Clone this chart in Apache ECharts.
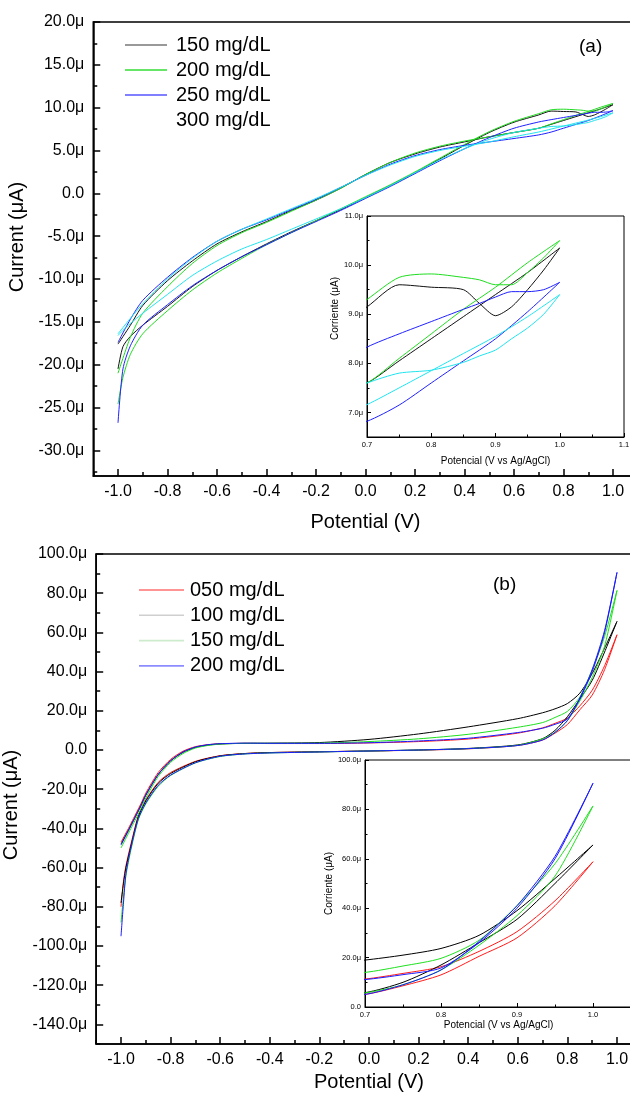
<!DOCTYPE html>
<html><head><meta charset="utf-8">
<script src="https://cdn.jsdelivr.net/npm/echarts@6/dist/echarts.min.js"></script>
<style>html,body{margin:0;padding:0;background:#fff}#c{width:630px;height:1093px}</style>
</head><body><div id="c"></div>
<script>
// ---------------- Panel (a) data (current in µA) ----------------
const potA_fwd = [-1.0,-0.95,-0.9,-0.8,-0.7,-0.6,-0.5,-0.4,-0.3,-0.2,-0.1,0.0,0.1,0.2,0.3,0.4,0.5,0.6,0.7,0.75,0.8,0.85,0.9,0.95,1.0];
const potA_rev = [1.0,0.975,0.95,0.925,0.9,0.875,0.85,0.8,0.75,0.7,0.6,0.5,0.4,0.3,0.2,0.1,0.0,-0.1,-0.2,-0.3,-0.4,-0.5,-0.6,-0.7,-0.8,-0.9,-0.95,-0.98,-1.0];

const a150_fwd = [-17.6,-15.4,-13.1,-10.2,-7.9,-5.9,-4.5,-3.3,-2.0,-0.8,0.6,2.2,3.6,4.6,5.4,6.0,6.6,7.1,7.6,8.05,8.5,8.95,9.4,9.85,10.35];
const a150_rev = [10.35,9.9,9.5,9.15,8.97,9.22,9.5,9.55,9.6,9.15,8.3,7.1,5.6,4.0,2.4,0.9,-0.5,-1.9,-3.2,-4.5,-5.9,-7.4,-9.0,-10.9,-13.2,-15.4,-16.7,-17.9,-20.5];

const a200_fwd = [-21.0,-16.8,-14.0,-10.9,-8.2,-6.1,-4.6,-3.4,-2.1,-0.8,0.6,2.2,3.6,4.7,5.5,6.1,6.6,7.1,7.6,8.1,8.6,9.1,9.55,10.05,10.5];
const a200_rev = [10.5,10.15,9.85,9.6,9.6,9.7,9.75,9.82,9.75,9.3,8.4,7.2,5.7,4.1,2.5,1.0,-0.4,-1.8,-3.2,-4.6,-6.0,-7.6,-9.3,-11.3,-13.7,-16.4,-18.8,-21.5,-24.6];

const a250_fwd = [-17.4,-14.7,-12.5,-9.8,-7.5,-5.6,-4.2,-3.1,-1.9,-0.7,0.7,2.1,3.4,4.4,5.1,5.6,6.0,6.4,6.82,7.15,7.6,8.05,8.5,9.05,9.65];
const a250_rev = [9.65,9.5,9.46,9.46,9.35,9.22,9.1,8.85,8.6,8.33,7.6,6.5,5.2,3.8,2.3,0.8,-0.6,-2.0,-3.3,-4.6,-6.0,-7.4,-9.0,-10.8,-13.0,-15.4,-17.8,-20.5,-26.8];

const a300_fwd = [-16.4,-14.6,-12.9,-10.0,-7.6,-5.6,-4.2,-3.0,-1.8,-0.6,0.7,2.1,3.3,4.3,5.0,5.5,6.0,6.6,7.16,7.5,7.85,8.2,8.55,8.95,9.4];
const a300_rev = [9.4,9.0,8.72,8.5,8.27,8.15,8.02,7.86,7.8,7.6,7.1,6.3,5.2,3.9,2.4,0.9,-0.5,-1.8,-3.0,-4.2,-5.4,-6.5,-7.9,-9.6,-11.8,-14.0,-15.2,-16.0,-16.6];

// ---------------- Panel (b) data (current in µA) ----------------
const potB_fwd = [-1.0,-0.97,-0.95,-0.92,-0.9,-0.85,-0.8,-0.75,-0.7,-0.65,-0.6,-0.5,-0.4,-0.2,0.0,0.2,0.4,0.6,0.7,0.75,0.8,0.85,0.9,0.95,1.0];
const potB_rev = [1.0,0.95,0.9,0.85,0.8,0.75,0.7,0.6,0.4,0.2,0.0,-0.2,-0.4,-0.5,-0.6,-0.7,-0.8,-0.85,-0.9,-0.93,-0.96,-0.98,-0.99,-1.0];

const b050_fwd = [-47,-40,-35,-27.5,-22,-11.5,-4.8,-0.6,1.7,2.7,3.2,3.4,3.3,3.3,3.6,4.3,5.6,8.6,11.3,13.6,16.3,22.5,30.5,43,58.8];
const b050_rev = [58.8,41,28,20.5,13,8.6,5.1,2.3,0.6,-0.1,-0.5,-0.9,-1.3,-1.8,-2.9,-5.8,-11.5,-16.5,-25.5,-33.5,-48,-59,-67,-80];

const b100_fwd = [-48,-41,-36,-28.5,-23,-12.5,-5.5,-1.2,1.3,2.5,3.1,3.4,3.5,3.8,5.4,8.2,11.8,16.0,19.0,21.0,23.7,29,39,52,65.6];
const b100_rev = [65.6,50,35.5,26,17,10,5.8,2.6,0.8,0.0,-0.5,-0.9,-1.3,-1.8,-3.0,-6.0,-12,-17,-26,-34,-49,-60,-68,-78];

const b150_fwd = [-50,-42.5,-37.5,-30,-24.5,-13.5,-6.3,-1.8,1.0,2.3,3.0,3.4,3.4,3.5,4.3,5.7,8.0,11.6,14.0,16.6,19.7,27,41,58,81.4];
const b150_rev = [81.4,53,37,25,15,9.0,5.7,2.4,0.7,0.0,-0.5,-1.0,-1.5,-2.0,-3.3,-6.6,-13,-18.5,-27.5,-35.5,-51,-64,-75,-88];

const b200_fwd = [-48.5,-41,-36,-28.5,-23,-12.5,-5.5,-1.0,1.5,2.7,3.2,3.5,3.4,3.4,3.7,4.6,6.0,8.9,11.1,13.1,15.8,26,40,60,90.6];
const b200_rev = [90.6,61,41,26.5,15,9.0,5.1,2.3,0.7,0.0,-0.5,-1.0,-1.5,-2.0,-3.2,-6.5,-12.8,-18,-27,-35,-50,-63,-78,-95];

// ---------------- tick labels ----------------
const ticksX_main = [-1.0,-0.8,-0.6,-0.4,-0.2,0.0,0.2,0.4,0.6,0.8,1.0];
const ticksY_a = [-30,-25,-20,-15,-10,-5,0,5,10,15,20];
const ticksY_b = [-140,-120,-100,-80,-60,-40,-20,0,20,40,60,80,100];
const ticksX_insA = [0.7,0.8,0.9,1.0,1.1];
const ticksY_insA = [7,8,9,10,11];
const ticksX_insB = [0.7,0.8,0.9,1.0];
const ticksY_insB = [0,20,40,60,80,100];

const namesA = ['150 mg/dL','200 mg/dL','250 mg/dL','300 mg/dL'];
const namesB = ['050 mg/dL','100 mg/dL','150 mg/dL','200 mg/dL'];

// ---------------- build ----------------
const FONT = '"Liberation Sans", Arial, Helvetica, sans-serif';
function pairs(xs, ys){ return xs.map((x,i)=>[x, ys[i]]); }
function loop(xf, yf, xr, yr){ return pairs(xf,yf).concat(pairs(xr,yr)); }
function minorOf(major, lo, hi){
  const step = major[1]-major[0]; const out=[];
  for (let k=-3;k<major.length+3;k++){ const v = major[0] + (k+0.5)*step; if (v>=lo-1e-9 && v<=hi+1e-9) out.push(+v.toFixed(4)); }
  return out;
}
const fmtY = v => Math.abs(v)<1e-9 ? '0.0' : v.toFixed(1)+'\u03bc';
const fmtX = v => (Math.abs(v)<1e-9 ? 0 : v).toFixed(1);

const xAxes=[], yAxes=[];
function addAxes(kind, g, min, max, majors, fmt, o){
  const arr = kind==='x' ? xAxes : yAxes;
  const pos = kind==='x' ? 'bottom' : 'left';
  const idx = arr.length;
  arr.push({
    type:'value', gridIndex:g, min, max, position:pos,
    axisLine:{show:true, onZero:false, lineStyle:{color:'#000', width:o.lw}},
    axisTick:{show:true, inside:true, length:o.tl, customValues:majors, lineStyle:{color:'#000', width:o.lw}},
    axisLabel:{show:true, customValues:majors, formatter:fmt, color:'#000', fontFamily:FONT, fontSize:o.fs, margin:o.margin, hideOverlap:false},
    splitLine:{show:false},
    name:o.name, nameLocation:'middle', nameGap:o.nameGap,
    nameTextStyle:{color:'#000', fontFamily:FONT, fontSize:o.nfs, padding:o.npad||0}
  });
  arr.push({
    type:'value', gridIndex:g, min, max, position:pos,
    axisLine:{show:false, onZero:false},
    axisTick:{show:true, inside:true, length:o.ts, customValues:minorOf(majors,min,max), lineStyle:{color:'#000', width:o.lw}},
    axisLabel:{show:false}, splitLine:{show:false}
  });
  return idx;
}

const grids = [
  {left:93.25, top:22, width:544.5, height:454},
  {left:367, top:216, width:257, height:221},
  {left:96.2, top:554, width:545.6, height:490},
  {left:365, top:760, width:272, height:247}
].map((g,i)=>Object.assign(g,{show:true, borderColor:'#000', borderWidth:(i%2?1:1.5), backgroundColor:(i%2?'#fff':'transparent'), containLabel:false, outerBoundsMode:'none'}));

const xa0 = addAxes('x',0,-1.1,1.1,ticksX_main,fmtX,{lw:1.5,tl:7,ts:4,fs:16,margin:8,name:'Potential (V)',nameGap:36,nfs:20});
const ya0 = addAxes('y',0,-33,20,ticksY_a,fmtY,{lw:1.5,tl:7,ts:4,fs:16,margin:9,name:'Current (\u03bcA)',nameGap:58,nfs:20,npad:[0,0,0,24]});
const xa1 = addAxes('x',1,0.7,1.1,ticksX_insA,fmtX,{lw:1,tl:4,ts:2.5,fs:7.5,margin:4,name:'Potencial (V vs Ag/AgCl)',nameGap:19,nfs:10});
const ya1 = addAxes('y',1,6.5,11,ticksY_insA,fmtY,{lw:1,tl:4,ts:2.5,fs:7.5,margin:4,name:'Corriente (\u03bcA)',nameGap:25,nfs:10,npad:[0,0,0,36]});
const xa2 = addAxes('x',2,-1.1,1.1,ticksX_main,fmtX,{lw:1.5,tl:7,ts:4,fs:16,margin:8,name:'Potential (V)',nameGap:28,nfs:20});
const ya2 = addAxes('y',2,-150,100,ticksY_b,fmtY,{lw:1.5,tl:7,ts:4,fs:16,margin:9,name:'Current (\u03bcA)',nameGap:64,nfs:20,npad:[0,12,0,0]});
const xa3 = addAxes('x',3,0.7,1.0579,ticksX_insB,fmtX,{lw:1,tl:4,ts:2.5,fs:7.5,margin:4,name:'Potencial (V vs Ag/AgCl)',nameGap:12,nfs:10,npad:[0,5,0,0]});
const ya3 = addAxes('y',3,0,100,ticksY_insB,fmtY,{lw:1,tl:4,ts:2.5,fs:7.5,margin:4,name:'Corriente (\u03bcA)',nameGap:31,nfs:10});

const loopsA = [loop(potA_fwd,a150_fwd,potA_rev,a150_rev), loop(potA_fwd,a200_fwd,potA_rev,a200_rev),
                loop(potA_fwd,a250_fwd,potA_rev,a250_rev), loop(potA_fwd,a300_fwd,potA_rev,a300_rev)];
const loopsB = [loop(potB_fwd,b050_fwd,potB_rev,b050_rev), loop(potB_fwd,b100_fwd,potB_rev,b100_rev),
                loop(potB_fwd,b150_fwd,potB_rev,b150_rev), loop(potB_fwd,b200_fwd,potB_rev,b200_rev)];
const colA = ['#111111','#1fdc1f','#2020ff','#20e4ee'];
const colB = ['#ff1a1a','#000000','#1ee01e','#1a1aff'];

const series=[];
function addSeries(names, loops, cols, xi, yi){
  loops.forEach((d,i)=>series.push({type:'line', name:names[i], data:d, xAxisIndex:xi, yAxisIndex:yi,
    showSymbol:false, symbol:'none', smooth:0.25, clip:true, silent:true,
    lineStyle:{color:cols[i], width:1}, itemStyle:{color:cols[i]}}));
}
addSeries(namesA, loopsA, colA, xa0, ya0);
addSeries(namesA, loopsA, colA, xa1, ya1);
addSeries(namesB, loopsB, colB, xa2, ya2);
addSeries(namesB, loopsB, colB, xa3, ya3);

const legStyle = {fontSize:20, fontFamily:FONT, color:'#000', padding:[0,0,0,4]};
const option = {
  animation:false, backgroundColor:'#fff',
  title:[
    {text:'(a)', left:579, top:37, padding:0, textStyle:{fontSize:19, fontWeight:'normal', fontFamily:FONT, color:'#000'}},
    {text:'(b)', left:493, top:575, padding:0, textStyle:{fontSize:19, fontWeight:'normal', fontFamily:FONT, color:'#000'}}
  ],
  legend:[
    {left:125, top:35, orient:'vertical', padding:0, itemGap:5, itemWidth:42, itemHeight:1.6, icon:'rect', selectedMode:false, textStyle:legStyle,
     data:[{name:namesA[0], itemStyle:{color:'#777'}},{name:namesA[1], itemStyle:{color:'#33dd33'}},{name:namesA[2], itemStyle:{color:'#5555ff'}},{name:namesA[3], itemStyle:{color:'rgba(255,255,255,0)'}}]},
    {left:139, top:580, orient:'vertical', padding:0, itemGap:5.3, itemWidth:45, itemHeight:1.6, icon:'rect', selectedMode:false, textStyle:Object.assign({},legStyle,{padding:[0,0,0,1]}),
     data:[{name:namesB[0], itemStyle:{color:'#ff7070'}},{name:namesB[1], itemStyle:{color:'#cfcfcf'}},{name:namesB[2], itemStyle:{color:'#cdeccd'}},{name:namesB[3], itemStyle:{color:'#8c8cff'}}]}
  ],
  grid:grids, xAxis:xAxes, yAxis:yAxes, series
};
const chart = echarts.init(document.getElementById('c'));
chart.setOption(option);
</script></body></html>
